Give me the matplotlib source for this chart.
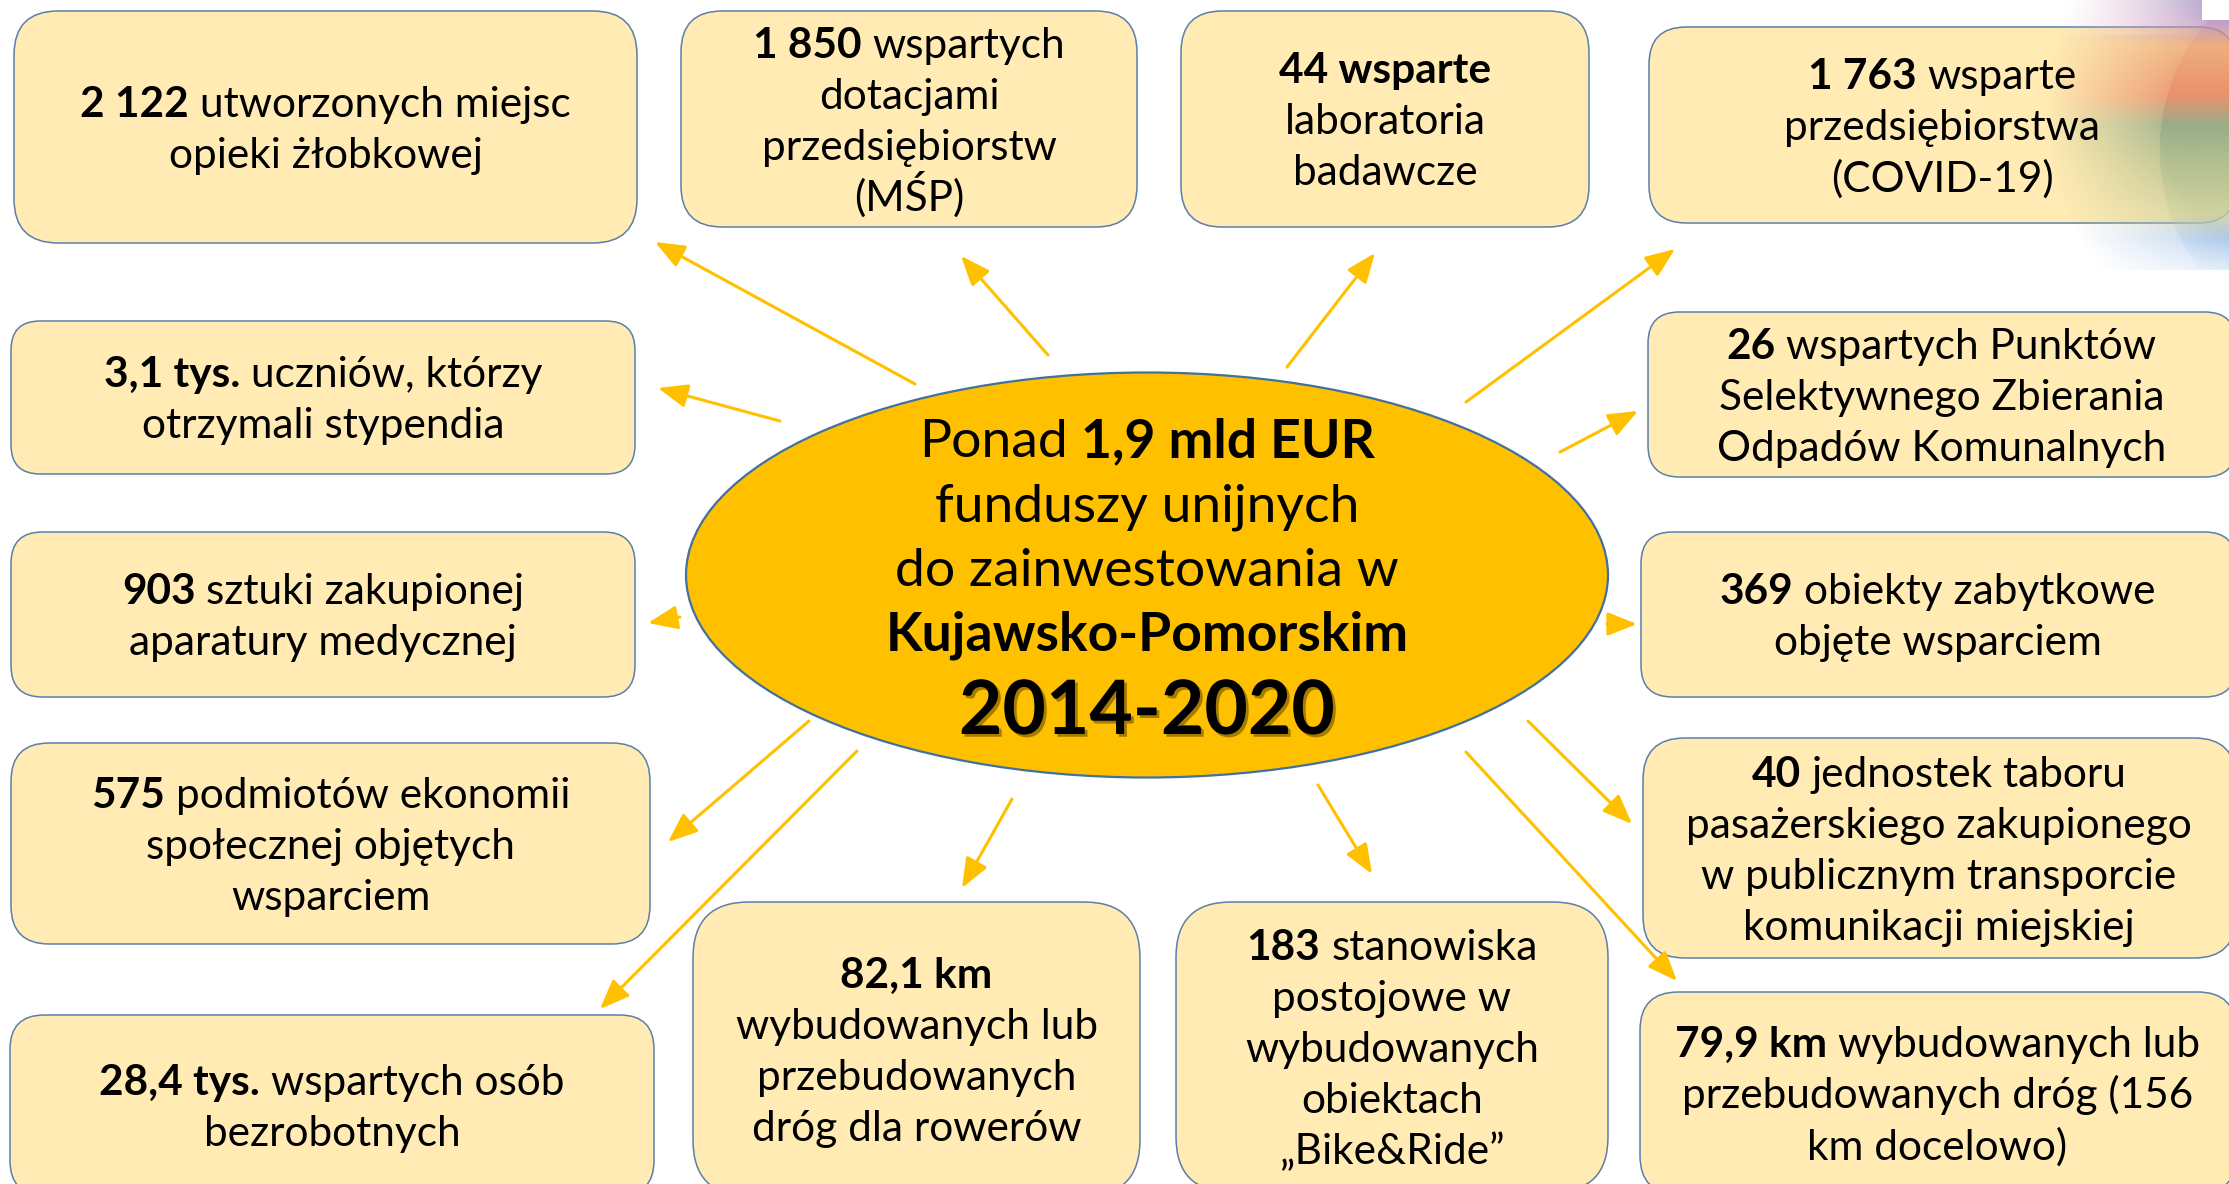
import matplotlib.pyplot as plt
import matplotlib.patheffects as pe
from matplotlib.patches import FancyBboxPatch, Ellipse, Rectangle
import numpy as np

W, H = 2229, 1184
FONT = 'Lato'
BOX_FILL = '#FFEBB3'
BOX_EDGE = '#5B7FA8'
GOLD = '#FFC000'

# box frames in pixels: left, top, right, bottom
box_left = [14, 681, 1181, 1649, 11, 1648, 11, 1641, 11, 1643, 10, 693, 1176, 1640]
box_top = [11, 11, 11, 27, 321, 312, 532, 532, 743, 738, 1015, 902, 902, 992]
box_right = [637, 1137, 1589, 2236, 635, 2236, 635, 2236, 650, 2236, 654, 1140, 1608, 2236]
box_bottom = [243, 227, 227, 223, 474, 477, 697, 697, 944, 958, 1195, 1196, 1192, 1194]

# text of every box, one list per line, (segment, bold)
box_lines = [
    [[('2 122', True), ('utworzonych miejsc', False)],
     [('opieki żłobkowej', False)]],
    [[('1 850', True), ('wspartych', False)],
     [('dotacjami', False)],
     [('przedsiębiorstw', False)],
     [('(MŚP)', False)]],
    [[('44 wsparte', True)],
     [('laboratoria', False)],
     [('badawcze', False)]],
    [[('1 763', True), ('wsparte', False)],
     [('przedsiębiorstwa', False)],
     [('(COVID-19)', False)]],
    [[('3,1 tys.', True), ('uczniów, którzy', False)],
     [('otrzymali stypendia', False)]],
    [[('26', True), ('wspartych Punktów', False)],
     [('Selektywnego Zbierania', False)],
     [('Odpadów Komunalnych', False)]],
    [[('903', True), ('sztuki zakupionej', False)],
     [('aparatury medycznej', False)]],
    [[('369', True), ('obiekty zabytkowe', False)],
     [('objęte wsparciem', False)]],
    [[('575', True), ('podmiotów ekonomii', False)],
     [('społecznej objętych', False)],
     [('wsparciem', False)]],
    [[('40', True), ('jednostek taboru', False)],
     [('pasażerskiego zakupionego', False)],
     [('w publicznym transporcie', False)],
     [('komunikacji miejskiej', False)]],
    [[('28,4 tys.', True), ('wspartych osób', False)],
     [('bezrobotnych', False)]],
    [[('82,1 km', True)],
     [('wybudowanych lub', False)],
     [('przebudowanych', False)],
     [('dróg dla rowerów', False)]],
    [[('183', True), ('stanowiska', False)],
     [('postojowe w', False)],
     [('wybudowanych', False)],
     [('obiektach', False)],
     [('„Bike&Ride”', False)]],
    [[('79,9 km', True), ('wybudowanych lub', False)],
     [('przebudowanych dróg (156', False)],
     [('km docelowo)', False)]],
]

# arrows from the centre ellipse towards each box
arrow_start = [(915, 384), (1048, 355), (1287, 367), (1466, 402), (780, 421),
               (1560, 452), (680, 617), (1607, 624), (809, 721), (1528, 721),
               (857, 751), (1012, 799), (1318, 785), (1466, 752)]
arrow_end = [(655, 242), (961, 256), (1375, 253), (1675, 249), (658, 388),
             (1638, 411), (648, 623), (1637, 624), (668, 842), (1632, 824),
             (600, 1009), (962, 888), (1372, 874), (1677, 981)]

centre_lines = [
    [('Ponad', False), ('1,9 mld EUR', True)],
    [('funduszy unijnych', False)],
    [('do zainwestowania w', False)],
    [('Kujawsko-Pomorskim', True)],
]
centre_years = '2014-2020'

fig = plt.figure(figsize=(W / 100, H / 100), dpi=100)
ax = fig.add_axes([0, 0, 1, 1])
ax.set_xlim(0, W)
ax.set_ylim(H, 0)
ax.axis('off')
renderer = fig.canvas.get_renderer()


def text_width(s, size, bold):
    t = ax.text(0, 0, s, fontsize=size, family=FONT,
                fontweight='bold' if bold else 'normal')
    w = t.get_window_extent(renderer).width
    t.remove()
    return w


def rich_line(xc, yc, segs, size, zorder=5, **kw):
    em = size * 100 / 72
    base = yc + 0.36 * em
    sp = text_width('x x', size, False) - text_width('xx', size, False)
    widths = [text_width(s, size, b) for s, b in segs]
    x = xc - (sum(widths) + sp * (len(segs) - 1)) / 2
    for (s, b), w in zip(segs, widths):
        ax.text(x, base, s, fontsize=size, family=FONT, ha='left',
                va='baseline', fontweight='bold' if b else 'normal',
                color='black', zorder=zorder, **kw)
        x += w + sp


# decorative colour splash in the top right corner
gx = np.linspace(1990, W, 250)
gy = np.linspace(0, 270, 270)
XX, YY = np.meshgrid(gx, gy)
stops = [0, 25, 45, 95, 125, 160, 215, 240, 270]
cols = np.array([[0.50, 0.44, 0.70], [0.72, 0.55, 0.72], [0.92, 0.62, 0.45],
                 [0.90, 0.48, 0.36], [0.50, 0.62, 0.50], [0.62, 0.70, 0.52],
                 [0.78, 0.80, 0.62], [0.60, 0.74, 0.90], [0.80, 0.88, 0.96]])
rgb = np.stack([np.interp(YY, stops, cols[:, k]) for k in range(3)], axis=-1)
pink = np.array([0.93, 0.70, 0.80])
tx = np.clip((XX - 2060) / 160, 0, 1)[..., None]
top = (YY < 35)[..., None]
rgb = np.where(top, pink * (1 - tx) + rgb * tx, rgb)
rr = np.hypot(XX - 2310, YY - 110)
alpha = 0.7 * np.clip((265 - rr) / 130, 0, 1)
inner = np.hypot(XX - 2360, YY - 150) < 200
alpha = np.where(inner, np.minimum(alpha * 1.3, 0.8), alpha)
ax.imshow(np.dstack([rgb, alpha]), extent=(1990, W, 270, 0),
          zorder=3, interpolation='bilinear', aspect='auto')
ax.add_patch(Rectangle((2202, 0), 40, 20, facecolor='white',
                       edgecolor='none', zorder=3.5))

for i in range(len(box_lines)):
    l, t, r, b = box_left[i], box_top[i], box_right[i], box_bottom[i]
    rad = 0.19 * min(r - l, b - t)
    ax.add_patch(FancyBboxPatch((l, t), r - l, b - t,
                                boxstyle=f'round,pad=0,rounding_size={rad}',
                                facecolor=BOX_FILL, edgecolor=BOX_EDGE,
                                lw=1.1, zorder=2))
    n = len(box_lines[i])
    step = 51
    yc = (t + b) / 2
    xc = (l + min(r, W + 6)) / 2
    for j, segs in enumerate(box_lines[i]):
        rich_line(xc, yc + (j - (n - 1) / 2) * step, segs, 30.5)

for s, e in zip(arrow_start, arrow_end):
    ax.annotate('', xy=e, xytext=s,
                arrowprops=dict(arrowstyle='-|>,head_length=0.9,head_width=0.36',
                                color=GOLD, lw=2.2, mutation_scale=20,
                                shrinkA=0, shrinkB=0), zorder=4)

ax.add_patch(Ellipse((1147, 575), 922, 405, facecolor=GOLD,
                     edgecolor='#41719C', lw=1.6, zorder=4))
for j, segs in enumerate(centre_lines):
    rich_line(1147, 438 + j * 64.5, segs, 38.5)
ax.text(1147, 707 + 0.36 * 54 * 100 / 72, centre_years, fontsize=54,
        family=FONT, fontweight='bold', ha='center', va='baseline',
        color='black', zorder=6,
        path_effects=[pe.withSimplePatchShadow(offset=(2, -2),
                                               shadow_rgbFace='#3a2a00',
                                               alpha=0.45)])

fig.savefig('out.png', dpi=100, facecolor='white')
